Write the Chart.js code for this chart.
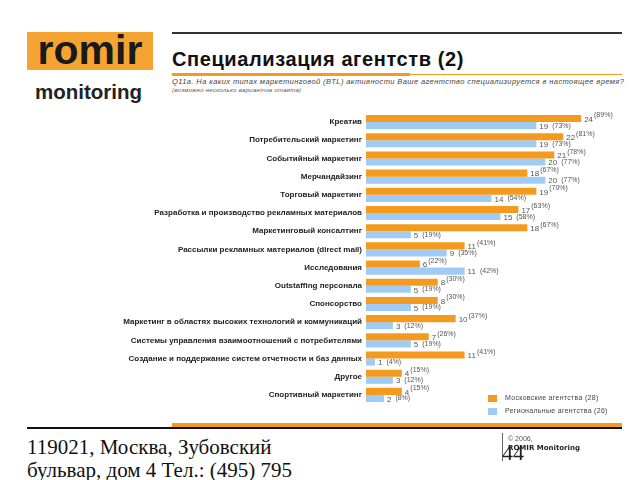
<!DOCTYPE html>
<html>
<head>
<meta charset="utf-8">
<script src="https://cdn.jsdelivr.net/npm/chart.js@4.4.0/dist/chart.umd.min.js"></script>
<style>
  html, body { margin:0; padding:0; background:#fff; }
  body { width:640px; height:480px; position:relative; overflow:hidden; font-family:"Liberation Sans", Arial, sans-serif; }
  .abs { position:absolute; white-space:nowrap; }
  #logoBox { left:27px; top:32px; width:126px; height:38px; background:#F5A332; }
  #logoTxt { left:27px; top:27px; width:126px; text-align:center; font-weight:bold; font-size:41px; color:#1a1a1a; letter-spacing:0px; }
  #logoMon { left:35px; top:80px; font-weight:bold; font-size:20.5px; color:#222; }
  #topLine { left:172px; top:32px; width:450px; height:2px; background:#333; }
  #title { left:172px; top:48px; font-size:20px; font-weight:bold; color:#111; letter-spacing:0.6px; }
  #ulThin { left:172px; top:74px; width:450px; height:1px; background:#F39A1F; }
  #ulThick { left:172px; top:73px; width:238px; height:3px; background:#F39A1F; }
  #q1 { left:172px; top:77px; font-size:7.5px; font-style:italic; color:#444; letter-spacing:0.4px; }
  #q2 { left:172px; top:87px; font-size:6px; font-style:italic; color:#555; letter-spacing:0.3px; }
  #chartBox { left:0; top:100px; width:640px; height:315px; }
  .lgSq { width:9px; height:7px; }
  .lgTx { font-size:7px; color:#444; letter-spacing:0.3px; }
  #footBlack { left:27px; top:427px; width:595px; height:2px; background:#111; }
  #footOrange { left:172px; top:423px; width:450px; height:4px; background:#F39A1F; }
  #addr { left:27px; top:436px; font-family:"Liberation Serif", "Times New Roman", serif; font-size:21px; line-height:23px; color:#111; }
  #vline { left:502px; top:433px; width:1px; height:28px; background:#666; }
  #copy1 { left:508px; top:435px; font-size:7px; color:#555; }
  #copy2 { left:508px; top:444px; font-size:7px; font-weight:bold; color:#222; font-family:"DejaVu Sans", sans-serif; }
  #pg { left:502px; top:440px; font-family:"Liberation Serif", serif; font-size:22px; color:#222; }
</style>
</head>
<body>
<div class="abs" id="logoBox"></div>
<div class="abs" id="logoTxt">romir</div>
<div class="abs" id="logoMon">monitoring</div>
<div class="abs" id="topLine"></div>
<div class="abs" id="title">Специализация агентств (2)</div>
<div class="abs" id="ulThin"></div>
<div class="abs" id="ulThick"></div>
<div class="abs" id="q1">Q11a. На каких типах маркетинговой (BTL) активности Ваше агентство специализируется в настоящее время?</div>
<div class="abs" id="q2">(возможно несколько вариантов ответа)</div>
<div class="abs" id="chartBox"><canvas id="c" width="640" height="315"></canvas></div>
<div class="abs lgSq" style="left:488px;top:395px;background:#F39A1F"></div>
<div class="abs lgTx" style="left:505px;top:394px">Московские агентства (28)</div>
<div class="abs lgSq" style="left:488px;top:408px;background:#9FCBF4"></div>
<div class="abs lgTx" style="left:505px;top:407px">Региональные агентства (26)</div>
<div class="abs" id="footBlack"></div>
<div class="abs" id="footOrange"></div>
<div class="abs" id="addr">119021, Москва, Зубовский<br>бульвар, дом 4 Тел.: (495) 795</div>
<div class="abs" id="vline"></div>
<div class="abs" id="copy1">© 2006,</div>
<div class="abs" id="copy2">ROMIR Monitoring</div>
<div class="abs" id="pg">44</div>
<script>
const categories = [
  "Креатив",
  "Потребительский маркетинг",
  "Событийный маркетинг",
  "Мерчандайзинг",
  "Торговый маркетинг",
  "Разработка и производство рекламных материалов",
  "Маркетинговый консалтинг",
  "Рассылки рекламных материалов (direct mail)",
  "Исследования",
  "Outstaffing персонала",
  "Спонсорство",
  "Маркетинг в областях высоких технологий и коммуникаций",
  "Системы управления взаимоотношений с потребителями",
  "Создание и поддержание систем отчетности и баз данных",
  "Другое",
  "Спортивный маркетинг"
];
const moscowCounts   = [24, 22, 21, 18, 19, 17, 18, 11, 6, 8, 8, 10, 7, 11, 4, 4];
const moscowPct      = [89, 81, 78, 67, 70, 63, 67, 41, 22, 30, 30, 37, 26, 41, 15, 15];
const regionalCounts = [19, 19, 20, 20, 14, 15, 5, 9, 11, 5, 5, 3, 5, 1, 3, 2];
const regionalPct    = [73, 73, 77, 77, 54, 58, 19, 35, 42, 19, 19, 12, 19, 4, 12, 8];
const seriesNames = ["Московские агентства (28)", "Региональные агентства (26)"];

const labelPlugin = {
  id: 'valLabels',
  afterDatasetsDraw(chart) {
    const ctx = chart.ctx;
    const pcts = [moscowPct, regionalPct];
    chart.data.datasets.forEach((ds, di) => {
      const meta = chart.getDatasetMeta(di);
      meta.data.forEach((el, i) => {
        ctx.save();
        ctx.fillStyle = '#555';
        ctx.textBaseline = 'middle';
        ctx.font = '8px "Liberation Sans", Arial, sans-serif';
        const num = String(ds.data[i]);
        const x0 = el.x + 3;
        ctx.fillText(num, x0, el.y + 1);
        const w = ctx.measureText(num).width;
        ctx.font = '7px "Liberation Sans", Arial, sans-serif';
        const dy = di === 0 ? -3 : 0;
        ctx.fillText('(' + pcts[di][i] + '%)', x0 + w + (di === 0 ? 1 : 4), el.y + dy);
        ctx.restore();
      });
    });
  }
};

new Chart(document.getElementById('c'), {
  type: 'bar',
  data: {
    labels: categories,
    datasets: [
      { label: seriesNames[0], data: moscowCounts, backgroundColor: '#F39A1F', barPercentage: 1.0, categoryPercentage: 0.78 },
      { label: seriesNames[1], data: regionalCounts, backgroundColor: '#9FCBF4', barPercentage: 1.0, categoryPercentage: 0.78 }
    ]
  },
  options: {
    indexAxis: 'y',
    responsive: false,
    animation: false,
    layout: { padding: { top: 13, bottom: 11, right: 23, left: 0 } },
    plugins: { legend: { display: false }, tooltip: { enabled: false } },
    scales: {
      x: { display: false, min: 0, max: 28 },
      y: {
        grid: { display: false, drawTicks: false },
        border: { display: false },
        ticks: { color: '#222', padding: 4, autoSkip: false, font: { family: '"Liberation Sans", Arial, sans-serif', size: 8, weight: 'bold' } },
        afterFit(scale) { scale.width = 366; }
      }
    }
  },
  plugins: [labelPlugin]
});
</script>
</body>
</html>
